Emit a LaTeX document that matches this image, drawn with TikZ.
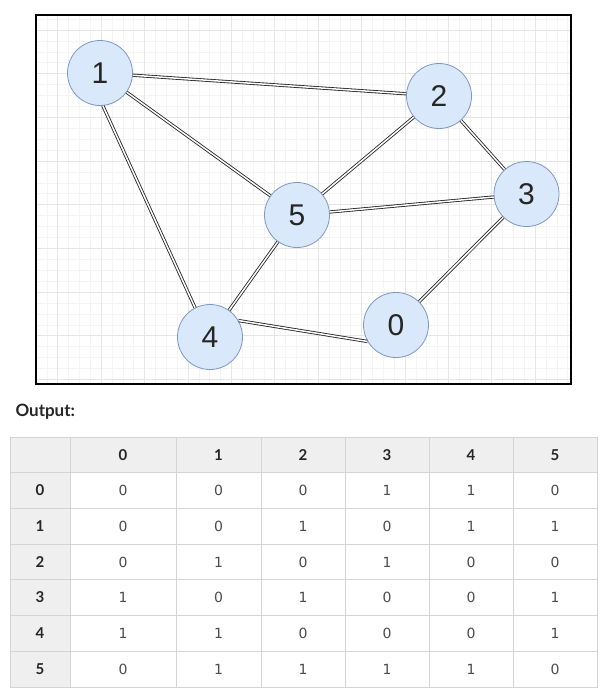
\documentclass[tikz,border=0pt]{standalone}
\usepackage{fontspec}
\setmainfont{Liberation Sans}
\newfontfamily\latofont{Lato}
\newfontfamily\dejavufont{DejaVu Sans}
\definecolor{circleFill}{HTML}{DAE8FC}
\definecolor{circleDraw}{HTML}{7D98C4}
\definecolor{gridMinor}{HTML}{F4F4F4}
\definecolor{gridMajor}{HTML}{E6E6E6}
\definecolor{tableLine}{HTML}{D4D4D4}
\definecolor{tableHead}{HTML}{EFEFEF}

\begin{document}
\begin{tikzpicture}
[x=1pt,y=-1pt,
  nodeDecorate/.style={shape=circle,minimum size=65pt,inner sep=0pt,draw=circleDraw,fill=circleFill,line width=0.8pt,font=\fontsize{30}{30}\selectfont,text=black!85},%
  lineDecorate/.style={-,draw=black!85,line width=0.85pt,double=white,double distance=1.5pt},%
  headDecorate/.style={shape=rectangle,draw=tableLine,fill=tableHead,inner sep=0pt,minimum height=35.7pt,font=\latofont\bfseries\fontsize{15}{15}\selectfont,text=black!85},%
  cellDecorate/.style={shape=rectangle,draw=tableLine,fill=white,inner sep=0pt,minimum height=35.7pt,font=\dejavufont\fontsize{14}{14}\selectfont,text=black!70}]
\useasboundingbox (0,0) rectangle (609,696);
%% background grid
\foreach \i in {0,...,49}
  \draw[gridMinor,line width=0.5pt] (36+\i*10.85,15) -- (36+\i*10.85,384);
\foreach \j in {0,...,33}
  \draw[gridMinor,line width=0.5pt] (36,19+\j*10.92) -- (571,19+\j*10.92);
\foreach \i in {0,...,11}
  \draw[gridMajor,line width=0.5pt] (57.7+\i*43.4,15) -- (57.7+\i*43.4,384);
\foreach \j in {0,...,8}
  \draw[gridMajor,line width=0.5pt] (36,29.9+\j*43.68) -- (571,29.9+\j*43.68);
\draw[line width=1.2pt] (36,15) rectangle (571,384);
%% nodes or vertices
\foreach \nodename/\x/\y in {
  0/396/325, 1/100/73, 2/439/96, 3/526.5/194, 4/210/337, 5/297/215}
{
  \node (n\nodename) at (\x,\y) [nodeDecorate] {\nodename};
}
%% edges or lines
\path
\foreach \startnode/\endnode in {
  n1/n2, n1/n5, n1.-85/n4.117, n2/n5, n2/n3, n5/n3, n5/n4, n4.30/n0.210, n0/n3}
{
  (\startnode) edge[lineDecorate] (\endnode)
};
%% output table
\node (output) at (12,412) [anchor=west,font=\latofont\bfseries\fontsize{17}{17}\selectfont,text=black!85] {Output:};
\node (corner) at (40,455) [headDecorate,minimum width=60pt] {};
\foreach \c/\x/\w in {0/123/106, 1/218.5/85, 2/303/84, 3/387/84, 4/471/84, 5/555/84}
{
  \node (head\c) at (\x,455) [headDecorate,minimum width=\w pt] {\c};
}
\foreach \r/\y/\vals in {
  0/490.5/{0,0,0,1,1,0}, 1/526/{0,0,1,0,1,1}, 2/562/{0,1,0,1,0,0},
  3/597.5/{1,0,1,0,0,1}, 4/633/{1,1,0,0,0,1}, 5/669/{0,1,1,1,1,0}}
{
  \node (row\r) at (40,\y) [headDecorate,minimum width=60pt] {\r};
  \foreach \v [count=\c from 0] in \vals
  {
    \pgfmathsetmacro{\cx}{{123,218.5,303,387,471,555}[\c]}
    \pgfmathsetmacro{\cw}{{106,85,84,84,84,84}[\c]}
    \node (cell\r\c) at (\cx,\y) [cellDecorate,minimum width=\cw pt] {\v};
  }
}
\end{tikzpicture}
\end{document}
